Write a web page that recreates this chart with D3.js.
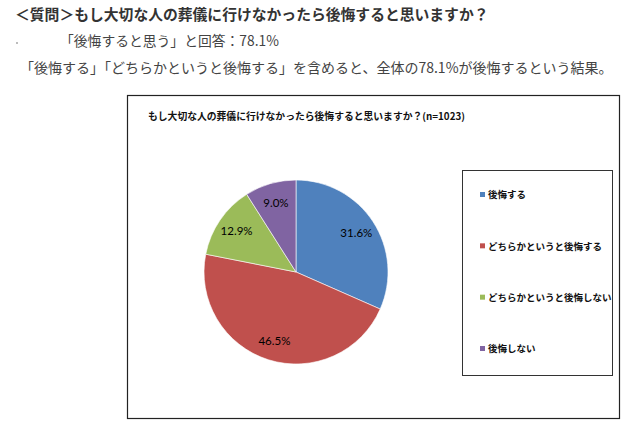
<!DOCTYPE html>
<html>
<head>
<meta charset="utf-8">
<script src="https://cdn.jsdelivr.net/npm/d3@7"></script>
<style>
body { margin: 0; background: #fff; }
</style>
</head>
<body>
<div id="chart"></div>
<script>
var categories = ["後悔する", "どちらかというと後悔する", "どちらかというと後悔しない", "後悔しない"];
var values = [31.6, 46.5, 12.9, 9.0];
var colors = ["#4F81BD", "#C0504D", "#9BBB59", "#8064A2"];
var headLines = [
    "＜質問＞もし大切な人の葬儀に行けなかったら後悔すると思いますか？",
    "「後悔すると思う」と回答：78.1%",
    "「後悔する」「どちらかというと後悔する」を含めると、全体の78.1%が後悔するという結果。"
];
var chartTitle = "もし大切な人の葬儀に行けなかったら後悔すると思いますか？(n=1023)";

var width = 635;
var height = 430;
var svgElement;
var jp = "'Noto Sans CJK JP', sans-serif";

function main() {
    svgElement = d3.select("#chart").append("svg")
        .attr("width", width)
        .attr("height", height);

    drawHeader();
    drawFrame();
    drawPie();
    drawLegend();
}

function drawHeader() {
    svgElement.append("text")
        .attr("x", 15).attr("y", 20)
        .attr("font-family", jp).attr("font-size", 14.8).attr("font-weight", "bold")
        .attr("fill", "#333")
        .text(headLines[0]);

    // stray bullet dot
    svgElement.append("circle")
        .attr("cx", 17).attr("cy", 43).attr("r", 0.8).attr("fill", "#666");

    svgElement.append("text")
        .attr("x", 60).attr("y", 46)
        .attr("font-family", jp).attr("font-size", 13.8)
        .attr("fill", "#444")
        .text(headLines[1]);

    svgElement.append("text")
        .attr("x", 20).attr("y", 73)
        .attr("font-family", jp).attr("font-size", 14)
        .attr("fill", "#444")
        .text(headLines[2]);
}

function drawFrame() {
    svgElement.append("rect")
        .attr("x", 127.5).attr("y", 95.5)
        .attr("width", 492).attr("height", 323)
        .attr("fill", "#fff").attr("stroke", "#222").attr("stroke-width", 1.2);

    svgElement.append("text")
        .attr("x", 148).attr("y", 120)
        .attr("font-family", jp).attr("font-size", 9.8).attr("font-weight", "bold")
        .attr("fill", "#111")
        .text(chartTitle);
}

function drawPie() {
    var cx = 296, cy = 272, r = 92;
    var pie = d3.pie().sort(null).value(function (d) { return d; });
    var arc = d3.arc().innerRadius(0).outerRadius(r);
    var labelArc = d3.arc().innerRadius(72).outerRadius(72);
    var arcs = pie(values);

    var g = svgElement.append("g").attr("transform", "translate(" + cx + "," + cy + ")");

    g.selectAll("path").data(arcs).enter().append("path")
        .attr("d", arc)
        .attr("fill", function (d, i) { return colors[i]; })
        .attr("stroke", "#fff").attr("stroke-width", 0.6);

    g.selectAll("text").data(arcs).enter().append("text")
        .attr("transform", function (d) { return "translate(" + labelArc.centroid(d) + ")"; })
        .attr("text-anchor", "middle").attr("dy", "0.35em")
        .attr("font-family", "Lato, 'Open Sans', sans-serif").attr("font-size", 11.5)
        .attr("fill", "#000")
        .text(function (d) { return d.data.toFixed(1) + "%"; });
}

function drawLegend() {
    svgElement.append("rect")
        .attr("x", 462.5).attr("y", 170.5)
        .attr("width", 150).attr("height", 205)
        .attr("fill", "#fff").attr("stroke", "#333").attr("stroke-width", 1);

    var y = d3.scalePoint().domain(categories).range([195, 349]);

    var items = svgElement.selectAll(".leg").data(categories).enter().append("g")
        .attr("transform", function (d) { return "translate(480," + y(d) + ")"; });

    items.append("rect")
        .attr("x", 0).attr("y", -3).attr("width", 5).attr("height", 5)
        .attr("fill", function (d, i) { return colors[i]; });

    items.append("text")
        .attr("x", 8).attr("y", 0).attr("dy", "0.35em")
        .attr("font-family", jp).attr("font-size", 9.5).attr("font-weight", "bold")
        .attr("fill", "#111")
        .text(function (d) { return d; });
}

main();
</script>
</body>
</html>
